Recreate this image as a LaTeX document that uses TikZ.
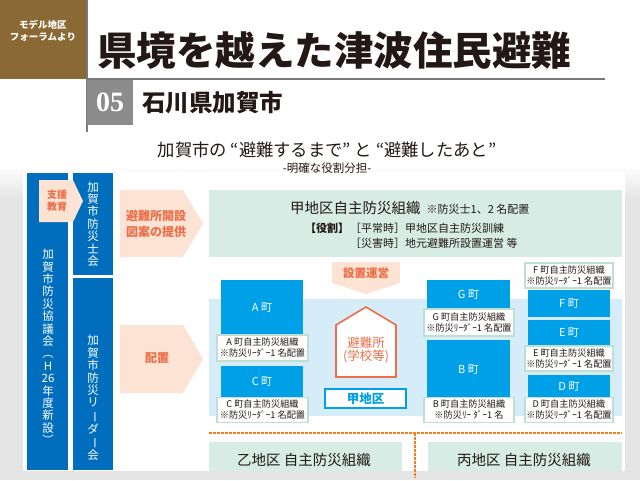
\documentclass[tikz,border=0pt]{standalone}
\usepackage{fontspec}
\usepackage{graphicx}
\setmainfont{Noto Sans CJK JP}
\newfontfamily\numserif{Liberation Serif}
\definecolor{brownhd}{RGB}{139,105,52}
\definecolor{grayhd}{RGB}{140,140,140}
\definecolor{barblue}{RGB}{0,110,188}
\definecolor{cyanb}{RGB}{0,160,233}
\definecolor{peach}{RGB}{252,227,212}
\definecolor{orangetx}{RGB}{236,110,72}
\definecolor{mintbg}{RGB}{214,236,229}
\definecolor{mintbd}{RGB}{190,224,210}
\definecolor{skybg}{RGB}{214,236,249}
\definecolor{dashor}{RGB}{240,128,32}
\definecolor{bggray}{RGB}{228,228,228}
\definecolor{linegray}{RGB}{120,120,120}
\definecolor{inkblack}{RGB}{35,24,21}
\newcommand\vbar{\rotatebox[origin=c]{-90}{ー}}
\begin{document}
\begin{tikzpicture}[x=1pt,y=-1pt,
  every node/.style={inner sep=0pt, text=inkblack},
  barbox/.style={fill=barblue},
  bartext/.style={text=white, align=center, font=\fontsize{11.5}{12.4}\selectfont},
  blk/.style={fill=cyanb, text=white, font=\fontsize{11}{13}\selectfont},
  lbl/.style={fill=white, draw=mintbd, line width=1.8pt, align=center, font=\fontsize{9.2}{11}\selectfont},
  arrowtext/.style={text=orangetx, align=center, font=\bfseries\fontsize{12}{16}\selectfont},
  peachshape/.style={fill=peach},
  mintbox/.style={fill=mintbg},
  dotline/.style={draw=dashor, line width=2pt, dash pattern=on 2.5pt off 1.5pt}
]
\useasboundingbox (0,0) rectangle (640,480);
\fill[white] (0,0) rectangle (640,480);
% background
\shade[top color=white, bottom color=bggray] (0,165) rectangle (640,200);
\fill[bggray] (0,200) rectangle (640,480);
\fill[white] (23,172) rectangle (625,471);

% header
\node[fill=brownhd, minimum width=87, minimum height=79, anchor=north west] (hdbox) at (0,0) {};
\node[text=white, align=center, font=\bfseries\fontsize{9.5}{12}\selectfont] (hdtxt) at (43,31) {モデル地区\\フォーラムより};
\coordinate (vl1) at (87,0);
\coordinate (vl2) at (87,132);
\coordinate (hl1) at (87,79);
\coordinate (hl2) at (605,79);
\draw[linegray, line width=1.2pt] (vl1) -- (vl2);
\draw[linegray, line width=1.2pt] (hl1) -- (hl2);
\node[anchor=west, font=\bfseries\fontsize{39.5}{40}\selectfont] (title) at (97,51) {県境を越えた津波住民避難};
\node[fill=grayhd, minimum width=46, minimum height=45, text=white, font=\numserif\bfseries\fontsize{28}{28}\selectfont] (num) at (110,102.5) {05};
\node[anchor=west, font=\bfseries\fontsize{23.5}{24}\selectfont] (city) at (142,103) {石川県加賀市};

% subtitle
\node[font=\fontsize{17.3}{18}\selectfont] (sub1) at (327,150) {加賀市の “避難するまで” と “避難したあと”};
\node[font=\fontsize{11.5}{12}\selectfont] (sub2) at (327,168) {-明確な役割分担-};

% left bars
\node[barbox, minimum width=41, minimum height=297] (kyo) at (47.5,321.5) {};
\node[barbox, minimum width=40, minimum height=102] (bsi) at (93,224) {};
\node[barbox, minimum width=40, minimum height=192] (ldr) at (93,374) {};
\node[bartext] (kyotxt) at (48,347) {加\\賀\\市\\防\\災\\協\\議\\会\\︵\\H\\26\\年\\度\\新\\設\\︶};
\node[bartext] (bsitxt) at (93,224) {加\\賀\\市\\防\\災\\士\\会};
\node[bartext] (ldrtxt) at (93,398) {加\\賀\\市\\防\\災\\リ\\\vbar\\ダ\\\vbar\\会};

% peach arrows
\fill[peachshape] (39,180) -- (73,180) -- (83,201) -- (73,222) -- (39,222) -- cycle;
\node[arrowtext, font=\bfseries\fontsize{10}{12}\selectfont] (shien) at (57,201) {支援\\教育};
\fill[peachshape] (120,190) -- (183,190) -- (203,223.5) -- (183,257) -- (120,257) -- cycle;
\node[arrowtext] (kaisetsu) at (156,223.5) {避難所開設\\図案の提供};
\fill[peachshape] (120,325) -- (183,325) -- (203,359) -- (183,393) -- (120,393) -- cycle;
\node[arrowtext] (haichi) at (157,358) {配置};

% top mint box
\node[mintbox, minimum width=413, minimum height=67] (kou) at (415.5,223.5) {};
\node[anchor=west, font=\fontsize{14.5}{16}\selectfont] (koutitle) at (290,208) {甲地区自主防災組織\hspace{6pt}{\fontsize{11}{12}\selectfont ※防災士1、2 名配置}};
\node[anchor=west, font=\bfseries\fontsize{11}{12}\selectfont] (yaku) at (305,228) {【役割】};
\node[anchor=west, font=\fontsize{11}{12}\selectfont] (heijo) at (350,228) {［平常時］甲地区自主防災訓練};
\node[anchor=west, font=\fontsize{11}{12}\selectfont] (saigai) at (350,243) {［災害時］地元避難所設置運営 等};

% operate arrow
\fill[peachshape] (332,262) -- (400,262) -- (400,283) -- (366,294) -- (332,283) -- cycle;
\node[arrowtext, font=\bfseries\fontsize{11.5}{13}\selectfont] (unei) at (366,273) {設置運営};

% sky area
\node[fill=skybg, minimum width=413, minimum height=117] (sky) at (415.5,357) {};

% town blocks
\node[blk, minimum width=82, minimum height=56] (A) at (262,308) {A 町};
\node[blk, minimum width=82, minimum height=32] (C) at (262,382) {C 町};
\node[blk, minimum width=83, minimum height=30] (G) at (468.5,295) {G 町};
\node[blk, minimum width=83, minimum height=59] (B) at (468.5,369.5) {B 町};
\node[blk, minimum width=82, minimum height=27] (F) at (569,303.5) {F 町};
\node[blk, minimum width=82, minimum height=25] (E) at (569,332.5) {E 町};
\node[blk, minimum width=82, minimum height=25] (D) at (569,387) {D 町};

% labels
\node[lbl, minimum width=91, minimum height=26] (Al) at (262.5,348) {A 町自主防災組織\\※防災ﾘｰﾀﾞｰ1 名配置};
\node[lbl, minimum width=91, minimum height=25] (Cl) at (262.5,410) {C 町自主防災組織\\※防災ﾘｰﾀﾞｰ1 名配置};
\node[lbl, minimum width=90, minimum height=27] (Gl) at (469,322.5) {G 町自主防災組織\\※防災ﾘｰﾀﾞｰ1 名配置};
\node[lbl, minimum width=90, minimum height=25] (Bl) at (469,410) {B 町自主防災組織\\※防災ﾘｰ ﾀﾞｰ1 名};
\node[lbl, minimum width=88, minimum height=25] (Fl) at (569,275.5) {F 町自主防災組織\\※防災ﾘｰﾀﾞｰ1 名配置};
\node[lbl, minimum width=88, minimum height=25] (El) at (569,358.5) {E 町自主防災組織\\※防災ﾘｰﾀﾞｰ1 名配置};
\node[lbl, minimum width=88, minimum height=25] (Dl) at (569,410) {D 町自主防災組織\\※防災ﾘｰﾀﾞｰ1 名配置};

% shelter
\draw[orangetx, line width=1.6pt, fill=white] (336,325) -- (366,307) -- (396,325) -- (396,377) -- (336,377) -- cycle;
\node[text=orangetx, align=center, font=\fontsize{12.5}{13.5}\selectfont] (hinan) at (366,350) {避難所\\(学校等)};
\node[draw=cyanb, line width=2pt, fill=white, minimum width=81, minimum height=19, text=cyanb, font=\bfseries\fontsize{12.5}{14}\selectfont] (kouarea) at (365.5,398.5) {甲地区};

% dotted separators
\coordinate (dl1) at (209,433);
\coordinate (dl2) at (622,433);
\coordinate (dv1) at (415,433);
\coordinate (dv2) at (415,478);
\draw[dotline] (dl1) -- (dl2);
\draw[dotline] (dv1) -- (dv2);

% bottom boxes
\node[mintbox, minimum width=193, minimum height=29] (otsu) at (305.5,456.5) {};
\node[font=\fontsize{14.5}{16}\selectfont] (otsutxt) at (304,460) {乙地区 自主防災組織};
\node[mintbox, minimum width=194, minimum height=29] (hei) at (525,456.5) {};
\node[font=\fontsize{14.5}{16}\selectfont] (heitxt) at (524,460) {丙地区 自主防災組織};
\end{tikzpicture}
\end{document}
